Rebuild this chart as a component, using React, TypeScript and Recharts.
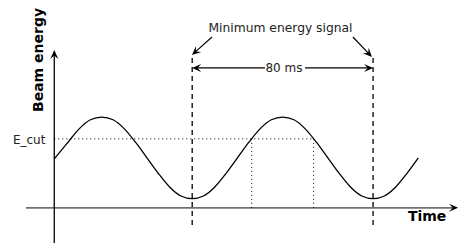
import React from "react";
import {
  ComposedChart,
  Line,
  XAxis,
  YAxis,
  ReferenceLine,
  ReferenceDot,
} from "recharts";

// Time in ms, beam energy in arbitrary units
const times = [
  0, 6, 11, 16, 21, 26, 31, 36, 41, 46, 51, 56, 61, 66, 71, 76, 81, 86, 91, 96,
  101, 106, 111, 116, 121, 126, 131, 136, 141, 146, 151, 156, 161,
];
const energy = [
  0.54, 0.72, 0.87, 0.97, 1.0, 0.97, 0.87, 0.72, 0.55, 0.38, 0.23, 0.13, 0.1,
  0.13, 0.23, 0.38, 0.55, 0.72, 0.87, 0.97, 1.0, 0.97, 0.87, 0.72, 0.55, 0.38,
  0.23, 0.13, 0.1, 0.13, 0.23, 0.38, 0.55,
];
const minima = [61, 141];
const eCut = 0.76;
const eCutCrossings = [87.3, 114.7];
const labels = {
  y: "Beam energy",
  x: "Time",
  cut: "E_cut",
  signal: "Minimum energy signal",
  period: "80 ms",
};

const data = times.map((t, i) => ({ t, v: energy[i] }));

const FONT = "DejaVu Sans";

function arrowHead(x1: number, y1: number, x2: number, y2: number, len = 9, half = 4) {
  const dx = x2 - x1;
  const dy = y2 - y1;
  const d = Math.sqrt(dx * dx + dy * dy) || 1;
  const ux = dx / d;
  const uy = dy / d;
  const px = -uy;
  const py = ux;
  const bx = x2 - ux * len;
  const by = y2 - uy * len;
  const nx = x2 - ux * len * 0.6;
  const ny = y2 - uy * len * 0.6;
  return `${x2},${y2} ${bx + px * half},${by + py * half} ${nx},${ny} ${bx - px * half},${by - py * half}`;
}

const makeArrow =
  (color: string, width: number) =>
  (p: any) => {
    const { x1, y1, x2, y2 } = p;
    const dx = x2 - x1;
    const dy = y2 - y1;
    const d = Math.sqrt(dx * dx + dy * dy) || 1;
    const ex = x2 - (dx / d) * 5;
    const ey = y2 - (dy / d) * 5;
    return (
      <g>
        <line x1={x1} y1={y1} x2={ex} y2={ey} stroke={color} strokeWidth={width} />
        <polygon points={arrowHead(x1, y1, x2, y2)} fill="#000" />
      </g>
    );
  };

const textShape =
  (text: string, opts: any) =>
  (p: any) => {
    const { cx, cy } = p;
    const { rotate, ...rest } = opts;
    return (
      <text
        x={cx}
        y={cy}
        fontFamily={FONT}
        fill="#222"
        transform={rotate ? `rotate(${rotate}, ${cx}, ${cy})` : undefined}
        {...rest}
      >
        {text}
      </text>
    );
  };

export default function App() {
  return (
    <div style={{ position: "absolute", left: 0, top: 0, background: "#fff" }}>
      <ComposedChart
        width={459}
        height={245}
        data={data}
        margin={{ top: 0, right: 0, bottom: 0, left: 0 }}
      >
        <XAxis dataKey="t" type="number" domain={[-24, 179]} hide allowDataOverflow />
        <YAxis type="number" domain={[-0.41, 2.29]} hide allowDataOverflow />

        {/* x axis */}
        <ReferenceLine
          segment={[
            { x: -12.5, y: 0 },
            { x: 178.6, y: 0 },
          ]}
          shape={makeArrow("#707070", 1.8)}
        />
        {/* y axis */}
        <ReferenceLine
          segment={[
            { x: 0, y: -0.388 },
            { x: 0, y: 1.739 },
          ]}
          shape={makeArrow("#000", 1.3)}
        />

        {/* dashed minimum markers */}
        {minima.map((m) => (
          <ReferenceLine
            key={m}
            segment={[
              { x: m, y: 1.651 },
              { x: m, y: -0.223 },
            ]}
            stroke="#000"
            strokeWidth={1.3}
            strokeDasharray="5 4"
          />
        ))}

        {/* E_cut dotted */}
        <ReferenceLine
          segment={[
            { x: 0, y: eCut },
            { x: eCutCrossings[1], y: eCut },
          ]}
          stroke="#000"
          strokeWidth={1}
          strokeDasharray="1 3"
        />
        {eCutCrossings.map((c) => (
          <ReferenceLine
            key={c}
            segment={[
              { x: c, y: eCut },
              { x: c, y: 0 },
            ]}
            stroke="#000"
            strokeWidth={1}
            strokeDasharray="1 3"
          />
        ))}

        {/* 80 ms double arrow */}
        <ReferenceLine
          segment={[
            { x: 93.2, y: 1.541 },
            { x: minima[0], y: 1.541 },
          ]}
          shape={makeArrow("#000", 1.2)}
        />
        <ReferenceLine
          segment={[
            { x: 110.9, y: 1.541 },
            { x: minima[1], y: 1.541 },
          ]}
          shape={makeArrow("#000", 1.2)}
        />

        {/* annotation arrows */}
        <ReferenceLine
          segment={[
            { x: 69.76, y: 1.882 },
            { x: 60.9, y: 1.684 },
          ]}
          shape={makeArrow("#000", 1.2)}
        />
        <ReferenceLine
          segment={[
            { x: 132.1, y: 1.882 },
            { x: 140.5, y: 1.662 },
          ]}
          shape={makeArrow("#000", 1.2)}
        />

        <Line
          dataKey="v"
          type="monotone"
          stroke="#000"
          strokeWidth={1.3}
          dot={false}
          activeDot={false}
          isAnimationActive={false}
        />

        {/* texts */}
        <ReferenceDot
          x={100.05}
          y={1.937}
          r={0}
          shape={textShape(labels.signal, { fontSize: 12.3, textAnchor: "middle" })}
        />
        <ReferenceDot
          x={101.6}
          y={1.541}
          r={0}
          shape={textShape(labels.period, {
            fontSize: 12,
            textAnchor: "middle",
            dominantBaseline: "central",
          })}
        />
        <ReferenceDot
          x={-3.9}
          y={0.7}
          r={0}
          shape={textShape(labels.cut, { fontSize: 12, textAnchor: "end" })}
        />
        <ReferenceDot
          x={-7.2}
          y={1.629}
          r={0}
          shape={textShape(labels.y, {
            fontSize: 14,
            fontWeight: "bold",
            textAnchor: "middle",
            dominantBaseline: "central",
            rotate: -90,
            fill: "#000",
          })}
        />
        <ReferenceDot
          x={156.4}
          y={-0.146}
          r={0}
          shape={textShape(labels.x, {
            fontSize: 14,
            fontWeight: "bold",
            textAnchor: "start",
            fill: "#000",
          })}
        />
      </ComposedChart>
    </div>
  );
}
